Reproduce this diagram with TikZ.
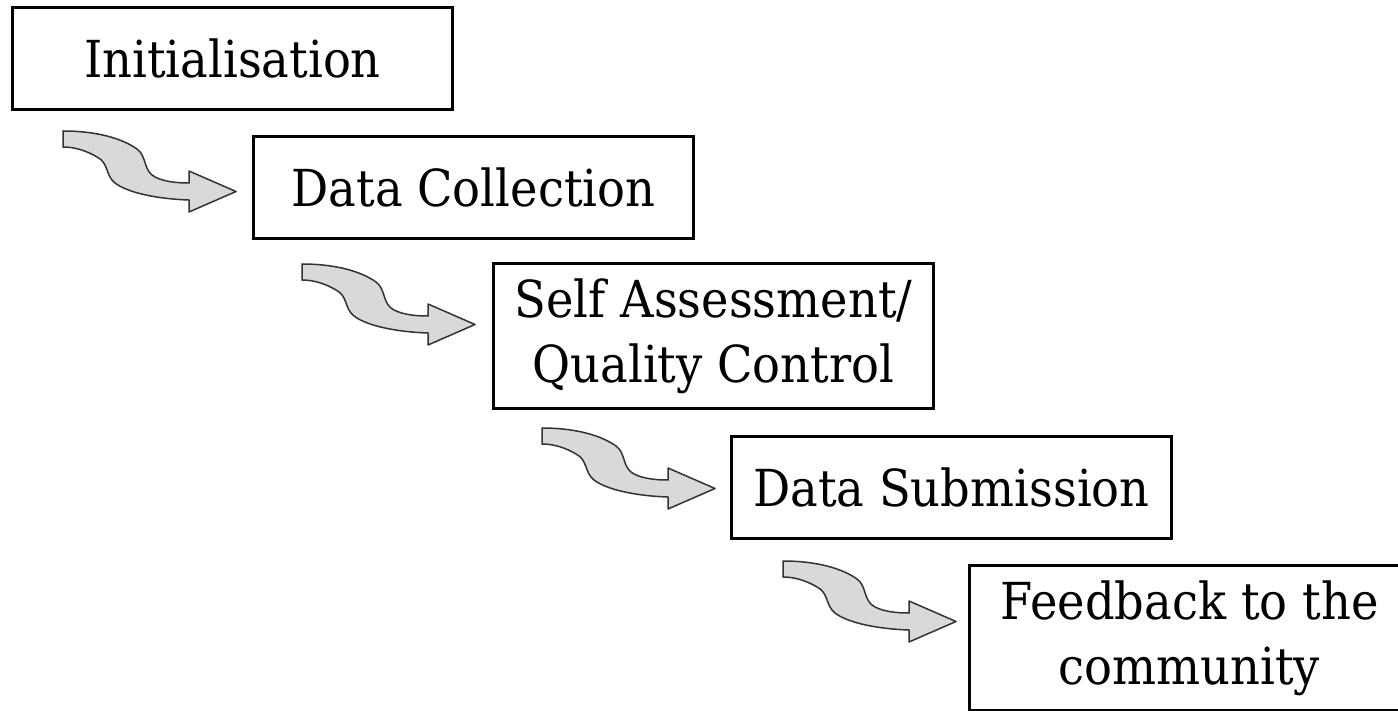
\documentclass[tikz,border=0pt]{standalone}
\usepackage{fontspec}
\setmainfont{DejaVu Serif}[FakeStretch=0.91]
\begin{document}
\begin{tikzpicture}[x=1pt,y=-1pt,
  stagebox/.style={draw=black,line width=3pt,rectangle,anchor=north west,inner sep=0pt,
    minimum width=440pt,align=center,font=\fontsize{51}{65}\selectfont},
  short/.style={stagebox,minimum height=102pt},
  tall/.style={stagebox,minimum height=145pt},
  wavyarrow/.pic={
    \draw[fill=black!15,draw=black!80,line width=1.5pt,line join=round]
      (0,0) .. controls (35,0) and (60,8) .. (74,18)
      .. controls (84,25) and (80,40) .. (92,46)
      .. controls (102,51) and (115,52) .. (126,52)
      -- (126,40) -- (173,60.5) -- (126,81) -- (126,69)
      .. controls (95,68) and (65,62) .. (52,52)
      .. controls (42,44) and (46,32) .. (34,26)
      .. controls (24,20) and (12,16) .. (0,16) -- cycle;
  }]
\useasboundingbox (0,0) rectangle (1398,711);
\node[short] (b1) at (11,6) {Initialisation};
\node[short] (b2) at (252,135) {Data Collection};
\node[tall]  (b3) at (492,262) {Self Assessment/\\Quality Control};
\node[short] (b4) at (730,435) {Data Submission};
\node[tall]  (b5) at (968,564) {Feedback to the\\community};
\pic at ([shift={(52,20)}]b1.south west) {wavyarrow};
\pic at ([shift={(50,24)}]b2.south west) {wavyarrow};
\pic at ([shift={(50,18)}]b3.south west) {wavyarrow};
\pic at ([shift={(53,21)}]b4.south west) {wavyarrow};
\end{tikzpicture}
\end{document}
